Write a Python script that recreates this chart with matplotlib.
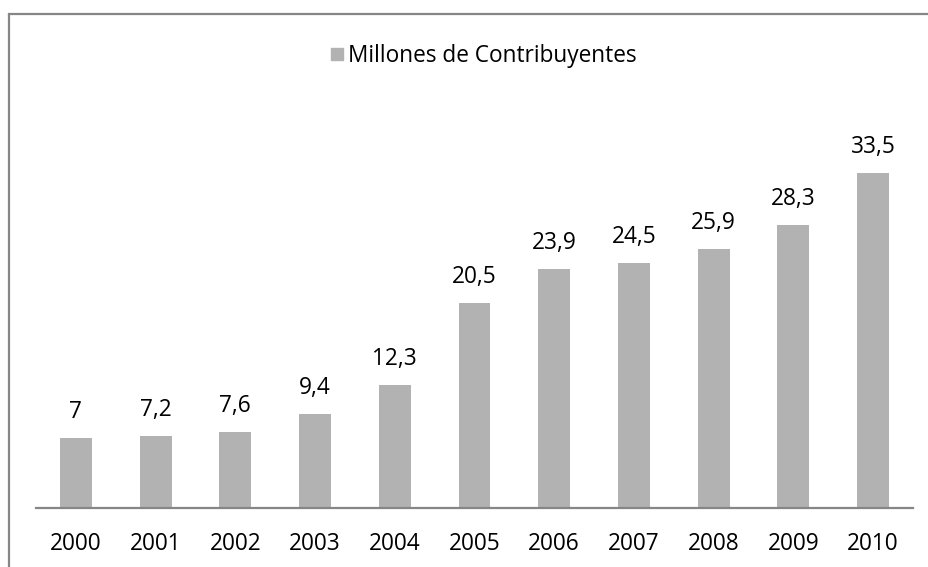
import matplotlib.pyplot as plt
from matplotlib.lines import Line2D
from matplotlib.patches import Patch
import numpy as np

plt.rcParams['font.family'] = ['Open Sans', 'DejaVu Sans']

# contribuyentes por año (millones)
years = ['2000', '2001', '2002', '2003', '2004', '2005',
         '2006', '2007', '2008', '2009', '2010']
contribuyentes = [7, 7.2, 7.6, 9.4, 12.3, 20.5, 23.9, 24.5, 25.9, 28.3, 33.5]

W, H = 929, 567
fig = plt.figure(figsize=(W / 100, H / 100), dpi=100)

bar_color = '#b2b2b2'
line_color = '#868686'
fs = 16.3

# plot area in pixels: x 36..913, y 108..508 (from top)
ax = fig.add_axes([36 / W, (H - 508) / H, (913 - 36) / W, 400 / H])
x = np.arange(len(years))
bars = ax.bar(x, contribuyentes, width=0.4, color=bar_color)
ax.set_xlim(-0.5, len(years) - 0.5)
ax.set_ylim(0, 40)

for xi, v in zip(x, contribuyentes):
    txt = ('%g' % v).replace('.', ',')
    ax.text(xi, v + 1.4, txt, ha='center', va='bottom', fontsize=fs, color='#000000')

ax.set_xticks(x)
ax.set_xticklabels(years, fontsize=fs)
ax.tick_params(axis='x', length=0, pad=17)
ax.set_yticks([])
for side in ['top', 'right', 'left']:
    ax.spines[side].set_visible(False)
ax.spines['bottom'].set_color(line_color)
ax.spines['bottom'].set_linewidth(1.6)

# legend at the top
leg = fig.legend(handles=[Patch(color=bar_color, label='Millones de Contribuyentes')],
                 loc='center', bbox_to_anchor=(484 / W, 1 - 56 / H),
                 frameon=False, fontsize=fs, handlelength=0.5, handleheight=0.5,
                 handletextpad=0.25)

# chart frame (left and top edges)
fig.add_artist(Line2D([8.5 / W, 8.5 / W], [0, 1 - 14 / H], transform=fig.transFigure,
                      color=line_color, linewidth=1.6, solid_capstyle='butt'))
fig.add_artist(Line2D([8.5 / W, 1], [1 - 14 / H, 1 - 14 / H], transform=fig.transFigure,
                      color=line_color, linewidth=1.6, solid_capstyle='projecting'))

fig.savefig('out.png', dpi=100)
